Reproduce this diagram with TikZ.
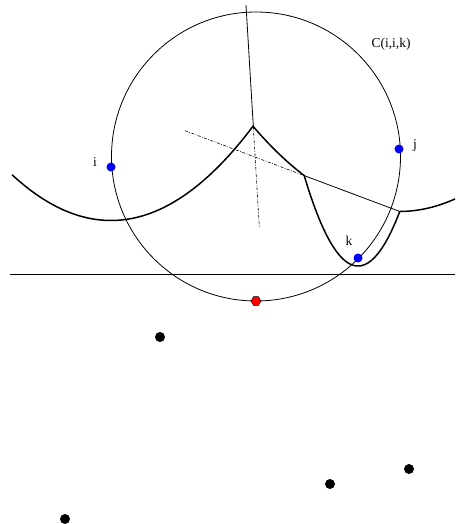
\documentclass[tikz,border=0pt]{standalone}
\usepackage{fontspec}
\setmainfont{Liberation Serif}
\usetikzlibrary{shapes.geometric}
\begin{document}
\begin{tikzpicture}[x=1pt,y=-1pt,
  beach/.style={line width=1.5pt,line join=round},
  thinline/.style={line width=0.8pt},
  dashdot/.style={line width=0.6pt,dash pattern=on 3pt off 1.5pt on 0.8pt off 1.5pt},
  site/.style={circle,fill=blue,inner sep=0pt,minimum size=9pt},
  pnt/.style={circle,fill=black,inner sep=0pt,minimum size=10pt},
  evt/.style={regular polygon,regular polygon sides=6,fill=red,draw=black,line width=0.4pt,inner sep=0pt,minimum size=10pt},
  lbl/.style={font=\fontsize{13.5}{16}\selectfont,inner sep=0pt}]
\useasboundingbox (0,0) rectangle (455,524);
% sweep line
\coordinate (s1) at (10,274.5);
\coordinate (s2) at (455,274.5);
\draw[line width=1pt] (s1) -- (s2);
% circle C(i,j,k)
\node[draw,circle,thinline,minimum size=289pt,inner sep=0pt] (C) at (256,156.5) {};
% beach line
\draw[beach] plot[domain=12:253.3,samples=60] (\x,{220.5-((\x-111)/10)^2*0.46729})
  -- plot[domain=253.3:304.2,samples=20] (\x,{211.5-((\x-399)/10)^2*0.4})
  -- plot[domain=304.2:399.8,samples=60] (\x,{266-((\x-358)/10)^2*3.125})
  -- plot[domain=399.8:455,samples=20] (\x,{211.5-((\x-399)/10)^2*0.4});
% bisectors
\coordinate (v) at (253.3,126.3);
\coordinate (top) at (246,5);
\coordinate (vb) at (259.3,227);
\coordinate (d1) at (185,130.7);
\coordinate (b1) at (304.2,175.6);
\coordinate (b2) at (399.8,211.5);
\draw[thinline] (v) -- (top);
\draw[dashdot] (v) -- (vb);
\draw[dashdot] (d1) -- (b1);
\draw[thinline] (b1) -- (b2);
% sites
\node[site] (i) at (111,167) {};
\node[site] (j) at (399,149) {};
\node[site] (k) at (358,258) {};
\node[lbl] (li) at (95,162) {i};
\node[lbl] (lj) at (415,145) {j};
\node[lbl] (lk) at (349,241) {k};
\node[lbl] (lc) at (391,44) {C(i,i,k)};
% circle event
\node[evt] (e) at (256,301) {};
% future points
\node[pnt] (p1) at (160,337) {};
\node[pnt] (p2) at (330,484) {};
\node[pnt] (p3) at (409,469) {};
\node[pnt] (p4) at (65,519) {};
\end{tikzpicture}
\end{document}
